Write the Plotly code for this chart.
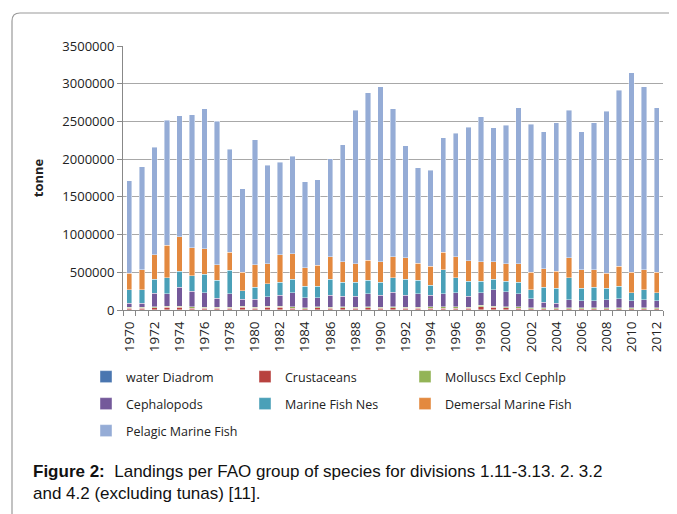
import plotly.graph_objects as go

years = list(range(1970, 2013))

water_diadrom = [5000] * 43
crustaceans = [15000, 15000, 25000, 30000, 30000, 20000, 15000, 15000, 15000, 30000,
               15000, 30000, 30000, 20000, 10000, 25000, 15000, 25000, 15000, 25000,
               15000, 25000, 15000, 15000, 20000, 20000, 20000, 15000, 40000, 30000,
               25000, 20000, 10000, 10000, 10000, 10000, 10000, 10000, 10000, 10000,
               10000, 10000, 10000]
molluscs = [15000] * 28 + [20000] + [15000] * 14
cephalopods = [54000, 54000, 177000, 164000, 253000, 209000, 192000, 121000, 179000, 92000,
               107000, 128000, 146000, 187000, 130000, 115000, 161000, 137000, 147000, 169000,
               161000, 191000, 161000, 179000, 156000, 174000, 191000, 147000, 166000, 221000,
               200000, 174000, 121000, 72000, 59000, 104000, 90000, 90000, 104000, 121000,
               90000, 104000, 90000]
marine_fish_nes = [178000, 178000, 183000, 213000, 213000, 205000, 249000, 236000, 316000, 112000,
                   161000, 169000, 169000, 178000, 156000, 156000, 213000, 183000, 183000, 182000,
                   169000, 191000, 213000, 182000, 133000, 320000, 196000, 196000, 152000, 138000,
                   133000, 151000, 120000, 201000, 200000, 293000, 169000, 183000, 155000, 165000,
                   107000, 137000, 107000]
demersal = [222000, 267000, 329000, 432000, 454000, 374000, 334000, 209000, 235000, 249000,
            298000, 267000, 369000, 343000, 245000, 276000, 294000, 276000, 249000, 263000,
            276000, 276000, 281000, 227000, 254000, 231000, 276000, 276000, 258000, 232000,
            236000, 249000, 232000, 244000, 227000, 263000, 245000, 231000, 196000, 267000,
            276000, 263000, 276000]
pelagic = [1223000, 1368000, 1424000, 1657000, 1603000, 1763000, 1856000, 1902000, 1367000, 1104000,
           1654000, 1302000, 1226000, 1291000, 1138000, 1138000, 1305000, 1553000, 2034000, 2223000,
           2316000, 1963000, 1486000, 1266000, 1271000, 1521000, 1641000, 1769000, 1919000, 1778000,
           1836000, 2069000, 1960000, 1814000, 1969000, 1958000, 1827000, 1951000, 2150000, 2330000,
           2640000, 2423000, 2180000]

series_names = ["water Diadrom", "Crustaceans", "Molluscs Excl Cephlp", "Cephalopods",
                "Marine Fish Nes", "Demersal Marine Fish", "Pelagic Marine Fish"]
series_values = [water_diadrom, crustaceans, molluscs, cephalopods, marine_fish_nes, demersal, pelagic]
colors = ["#4A76B0", "#B8423F", "#93B456", "#74599A", "#4AA0B8", "#E3893F", "#95ACD6"]

y_ticks = list(range(0, 3500001, 500000))
x_tick_years = list(range(1970, 2013, 2))

# The page body adds an 8px offset; the figure is sized so it ends at the window edge.
W, H = 669, 506
L, R, T, B = 115, 14, 38, 204
pw, ph = W - L - R, H - T - B


def px(x):  # screen x -> paper
    return (x - 8 - L) / pw


def py(y):  # screen y -> paper
    return (H - B + 8 - y) / ph


font_chart = "Open Sans, Lato, sans-serif"
col_x = [86, 245, 405]
row_y = [377, 404, 431]

fig = go.Figure()
legends = {}
for i, (name, vals, col) in enumerate(zip(series_names, series_values, colors)):
    lid = "legend" if i == 0 else f"legend{i + 1}"
    fig.add_trace(go.Bar(x=years, y=vals, name=name, legend=lid, showlegend=True,
                         marker=dict(color=col, line=dict(color="rgba(255,255,255,0.7)", width=0.6))))
    legends[lid] = dict(orientation="h", font=dict(family=font_chart, size=12.5, color="#222"),
                        xanchor="left", yanchor="middle", x=px(col_x[i % 3]), y=py(row_y[i // 3]),
                        itemclick=False, bgcolor="rgba(0,0,0,0)")

fig.update_layout(
    width=W, height=H,
    margin=dict(l=L, r=R, t=T, b=B),
    paper_bgcolor="white", plot_bgcolor="white",
    barmode="stack", bargap=0.57, showlegend=True,
    **legends,
    xaxis=dict(range=[1969.5, 2012.5], tickmode="array", tickvals=x_tick_years,
               ticktext=[str(v) for v in x_tick_years], tickangle=-90,
               ticks="outside", ticklen=5, tickcolor="rgba(0,0,0,0)",
               minor=dict(tick0=1969.5, dtick=1, ticks="outside", ticklen=5,
                          tickcolor="#888", showgrid=False),
               showline=True, linecolor="#888", linewidth=1, showgrid=False,
               tickfont=dict(family=font_chart, size=13.5, color="#222")),
    yaxis=dict(range=[0, 3500000], tickmode="array", tickvals=y_ticks,
               ticktext=[str(v) for v in y_ticks],
               ticks="outside", ticklen=5, tickcolor="#888",
               showline=True, linecolor="#888", linewidth=1,
               showgrid=True, gridcolor="#A8A8A8", gridwidth=1, zeroline=False,
               tickfont=dict(family=font_chart, size=13, color="#222"),
               title=dict(text="<b>tonne</b>", font=dict(family=font_chart, size=13, color="#222"),
                          standoff=15)),
    shapes=[dict(type="path", xref="paper", yref="paper",
                 path=f"M {px(12)},{py(560)} L {px(12)},{py(21)} Q {px(12)},{py(13)} {px(20)},{py(13)} L {px(720)},{py(13)}",
                 line=dict(color="#9A9A9A", width=1.2))],
    annotations=[dict(xref="paper", yref="paper", x=px(31), y=py(460), xanchor="left", yanchor="top",
                      align="left", showarrow=False,
                      text="<b>Figure 2:</b>&nbsp; Landings per FAO group of species for divisions 1.11-3.13. 2. 3.2<br>and 4.2 (excluding tunas) [11].",
                      font=dict(family="Liberation Sans, Arial, sans-serif", size=17, color="#111"))],
)

fig.write_html("out.html")
